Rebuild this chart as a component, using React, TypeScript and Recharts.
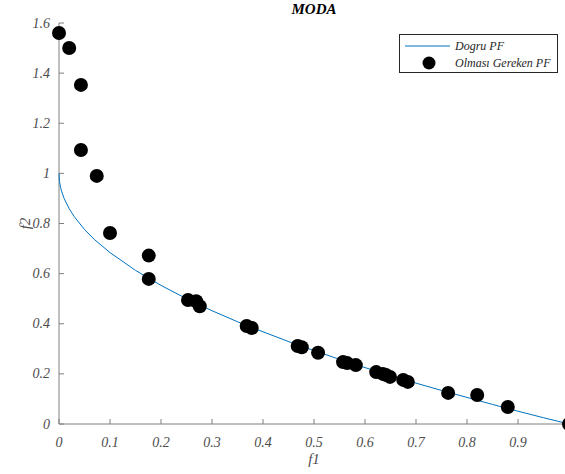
import React from 'react';
import { ScatterChart, Scatter, XAxis, YAxis } from 'recharts';

const curveF1 = [0, 0.001, 0.003, 0.005, 0.01, 0.02, 0.03, 0.05, 0.07, 0.1, 0.15, 0.2, 0.25, 0.3, 0.35, 0.4, 0.45, 0.5, 0.55, 0.6, 0.65, 0.7, 0.75, 0.8, 0.85, 0.9, 0.95, 1];
const curveF2 = [1, 0.968, 0.945, 0.929, 0.9, 0.859, 0.827, 0.776, 0.735, 0.684, 0.613, 0.553, 0.5, 0.452, 0.408, 0.368, 0.329, 0.293, 0.258, 0.225, 0.194, 0.163, 0.134, 0.106, 0.078, 0.051, 0.025, 0];

const pointsF1 = [0, 0.02, 0.043, 0.043, 0.074, 0.1, 0.176, 0.176, 0.253, 0.269, 0.276, 0.368, 0.378, 0.468, 0.476, 0.508, 0.557, 0.565, 0.582, 0.622, 0.635, 0.641, 0.649, 0.675, 0.684, 0.763, 0.82, 0.88, 1.0];
const pointsF2 = [1.56, 1.5, 1.353, 1.093, 0.99, 0.762, 0.672, 0.579, 0.495, 0.49, 0.47, 0.391, 0.383, 0.311, 0.306, 0.284, 0.247, 0.243, 0.235, 0.207, 0.2, 0.196, 0.188, 0.176, 0.168, 0.124, 0.116, 0.068, 0];

const xTicks = [0, 0.1, 0.2, 0.3, 0.4, 0.5, 0.6, 0.7, 0.8, 0.9, 1];
const yTicks = [0, 0.2, 0.4, 0.6, 0.8, 1, 1.2, 1.4, 1.6];

const seriesNames = ['Dogru PF', 'Olması Gereken PF'];

const curve = curveF1.map((x, i) => ({ x, y: curveF2[i] }));
const points = pointsF1.map((x, i) => ({ x, y: pointsF2[i] }));

const FONT = '"Liberation Serif", "DejaVu Serif", serif';
const AXIS = '#808080';
const TEXT = '#4d4d4d';
const BLUE = '#0072BD';
const TL = 5;

const fmt = (v: number) => String(Number(v.toFixed(1)));

const BottomTick = (props: any) => {
  const { x, y, payload } = props;
  return (
    <g>
      <line x1={x} y1={y} x2={x} y2={y - TL} stroke={AXIS} strokeWidth={1} />
      {payload.value < 1 ? (
        <text x={x} y={y + 18} textAnchor="middle" dominantBaseline="central" fontFamily={FONT} fontStyle="italic" fontSize={14} fill={TEXT}>
          {fmt(payload.value)}
        </text>
      ) : null}
    </g>
  );
};

const TopTick = (props: any) => {
  const { x, y } = props;
  return <line x1={x} y1={y} x2={x} y2={y + TL} stroke={AXIS} strokeWidth={1} />;
};

const LeftTick = (props: any) => {
  const { x, y, payload } = props;
  return (
    <g>
      <line x1={x} y1={y} x2={x + TL} y2={y} stroke={AXIS} strokeWidth={1} />
      <text x={x - 9} y={y} textAnchor="end" dominantBaseline="central" fontFamily={FONT} fontStyle="italic" fontSize={14} fill={TEXT}>
        {fmt(payload.value)}
      </text>
    </g>
  );
};

const RightTick = (props: any) => {
  const { x, y } = props;
  return <line x1={x} y1={y} x2={x - TL} y2={y} stroke={AXIS} strokeWidth={1} />;
};

const Dot = (props: any) => {
  const { cx, cy } = props;
  if (cx == null || cy == null) return null;
  return <circle cx={cx} cy={cy} r={7} fill="#000" />;
};

const NoDot = () => null;

const LegendBox = () => (
  <div
    style={{
      position: 'absolute',
      left: 399,
      top: 34,
      width: 159,
      height: 39,
      border: '1px solid #262626',
      background: '#fff',
      boxSizing: 'border-box',
      fontFamily: FONT,
      fontStyle: 'italic',
      fontSize: 12,
      color: '#262626',
    }}
  >
    <svg width={157} height={37} style={{ position: 'absolute', left: 0, top: 0 }}>
      <line x1={5} y1={11} x2={50} y2={11} stroke={BLUE} strokeWidth={1} />
      <circle cx={29} cy={28} r={6.5} fill="#000" />
    </svg>
    <div style={{ position: 'absolute', left: 55, top: 3, lineHeight: '16px', whiteSpace: 'nowrap' }}>{seriesNames[0]}</div>
    <div style={{ position: 'absolute', left: 55, top: 20, lineHeight: '16px', whiteSpace: 'nowrap' }}>{seriesNames[1]}</div>
  </div>
);

export default function App() {
  return (
    <div style={{ position: 'absolute', left: 0, top: 0, width: 565, height: 474, overflow: 'hidden', background: '#fff' }}>
      <ScatterChart width={600} height={474} margin={{ top: 23, right: 31, bottom: 0, left: 0 }}>
        <XAxis
          xAxisId="b"
          type="number"
          dataKey="x"
          domain={[0, 1]}
          ticks={xTicks}
          interval={0}
          orientation="bottom"
          height={50}
          stroke={AXIS}
          tickLine={false}
          tickSize={0}
          tickMargin={0}
          tick={<BottomTick />}
          label={(p: any) => {
            const vb = p.viewBox || {};
            return (
              <text x={vb.x + vb.width / 2} y={459} textAnchor="middle" dominantBaseline="central" fontFamily={FONT} fontStyle="italic" fontSize={15} fill={TEXT}>
                f1
              </text>
            );
          }}
        />
        <XAxis
          xAxisId="t"
          type="number"
          dataKey="x"
          domain={[0, 1]}
          ticks={xTicks}
          interval={0}
          orientation="top"
          height={0}
          stroke={AXIS}
          tickLine={false}
          tickSize={0}
          tickMargin={0}
          tick={<TopTick />}
        />
        <YAxis
          yAxisId="l"
          type="number"
          dataKey="y"
          domain={[0, 1.6]}
          ticks={yTicks}
          interval={0}
          orientation="left"
          width={59}
          stroke={AXIS}
          tickLine={false}
          tickSize={0}
          tickMargin={0}
          tick={<LeftTick />}
          label={(p: any) => {
            const vb = p.viewBox || {};
            const cy = vb.y + vb.height / 2;
            return (
              <text x={25} y={cy} transform={`rotate(-90 25 ${cy})`} textAnchor="middle" dominantBaseline="central" fontFamily={FONT} fontStyle="italic" fontSize={15} fill={TEXT}>
                f2
              </text>
            );
          }}
        />
        <YAxis
          yAxisId="r"
          type="number"
          dataKey="y"
          domain={[0, 1.6]}
          ticks={yTicks}
          interval={0}
          orientation="right"
          width={0}
          stroke={AXIS}
          tickLine={false}
          tickSize={0}
          tickMargin={0}
          tick={<RightTick />}
        />
        <Scatter
          name={seriesNames[0]}
          data={curve}
          xAxisId="b"
          yAxisId="l"
          line={{ stroke: BLUE, strokeWidth: 1 }}
          lineType="joint"
          shape={<NoDot />}
          isAnimationActive={false}
        />
        <Scatter
          name={seriesNames[1]}
          data={points}
          xAxisId="b"
          yAxisId="l"
          fill="#000"
          shape={<Dot />}
          isAnimationActive={false}
        />
      </ScatterChart>
      <div
        style={{
          position: 'absolute',
          left: 214,
          width: 200,
          top: 0,
          textAlign: 'center',
          fontFamily: FONT,
          fontWeight: 'bold',
          fontStyle: 'italic',
          fontSize: 15,
          lineHeight: '18px',
          color: '#000',
        }}
      >
        MODA
      </div>
      <LegendBox />
    </div>
  );
}
